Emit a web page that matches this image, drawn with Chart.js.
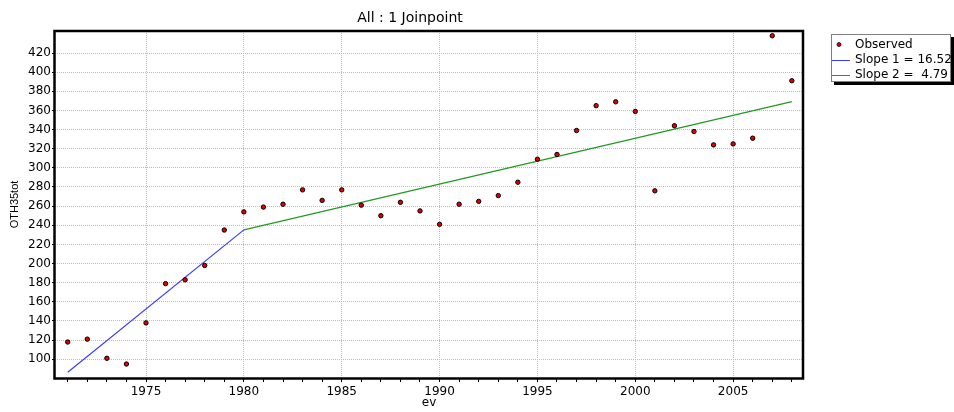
<!DOCTYPE html>
<html>
<head>
<meta charset="utf-8">
<script src="https://cdn.jsdelivr.net/npm/chart.js@4/dist/chart.umd.min.js"></script>
<style>
  html, body { margin: 0; padding: 0; background: #fff; }
</style>
</head>
<body>
<canvas id="c" width="954" height="412"></canvas>
<script>
/* Joinpoint fit: observed series + two fitted segments */
const years = [1971, 1972, 1973, 1974, 1975, 1976, 1977, 1978, 1979, 1980,
  1981, 1982, 1983, 1984, 1985, 1986, 1987, 1988, 1989, 1990,
  1991, 1992, 1993, 1994, 1995, 1996, 1997, 1998, 1999, 2000,
  2001, 2002, 2003, 2004, 2005, 2006, 2007, 2008];
const observed = [118, 121, 101, 95, 138, 179, 183, 198, 235, 254,
  259, 262, 277, 266, 277, 261, 250, 264, 255, 241,
  262, 265, 271, 285, 309, 314, 339, 365, 369, 359,
  276, 344, 338, 324, 325, 331, 438, 391];
const seg1Years = [1971, 1980];
const seg1Values = [86.5, 235.2];
const seg2Years = [1980, 2008];
const seg2Values = [235.2, 369.3];
const legendLabels = ["Observed", "Slope 1 = 16.52", "Slope 2 =  4.79"];
const yTicks = [100, 120, 140, 160, 180, 200, 220, 240, 260, 280, 300, 320, 340, 360, 380, 400, 420];
const xTickLabels = [1975, 1980, 1985, 1990, 1995, 2000, 2005];

const titleText = "All : 1 Joinpoint";
const FONT = "'DejaVu Sans', sans-serif";
const GRID = "#bcbcbc";
const C = { red: "#e00000", blue: "#3c3cff", green: "#229a22" };

const pts = (xs, ys) => xs.map((x, i) => ({ x, y: ys[i] }));

const decor = {
  id: "decor",
  afterDatasetsDraw(chart) {
    const { ctx, chartArea: a } = chart;
    ctx.save();
    ctx.strokeStyle = "#000";
    ctx.lineWidth = 2.5;
    ctx.strokeRect(a.left - 0.5, a.top, a.right - a.left + 0.5, a.bottom - a.top + 0.5);
    ctx.restore();
  },
  afterDraw(chart) {
    const ctx = chart.ctx;
    ctx.save();
    // title
    ctx.fillStyle = "#000";
    ctx.font = "14px " + FONT;
    ctx.textAlign = "center";
    ctx.textBaseline = "middle";
    ctx.fillText(titleText, 410, 18);
    // legend box with shadow
    const bx = 831, by = 34, bw = 120, bh = 48;
    ctx.fillStyle = "#000";
    ctx.fillRect(bx + 3, by + 3, bw, bh);
    ctx.fillStyle = "#fff";
    ctx.fillRect(bx, by, bw, bh);
    ctx.strokeStyle = "#808080";
    ctx.lineWidth = 1;
    ctx.strokeRect(bx + 0.5, by + 0.5, bw - 1, bh - 1);
    ctx.font = "12px " + FONT;
    ctx.textAlign = "left";
    const rows = [44.5, 60, 75];
    chart.data.datasets.forEach((ds, i) => {
      const y = rows[i];
      if (i === 0) {
        ctx.beginPath();
        ctx.arc(839, y, 2, 0, Math.PI * 2);
        ctx.fillStyle = C.red; ctx.fill();
        ctx.strokeStyle = "#000"; ctx.lineWidth = 0.8; ctx.stroke();
      } else {
        ctx.beginPath();
        ctx.moveTo(832, Math.round(y) + 0.5); ctx.lineTo(850, Math.round(y) + 0.5);
        ctx.strokeStyle = ds.borderColor; ctx.lineWidth = 1; ctx.stroke();
      }
      ctx.fillStyle = "#000";
      ctx.fillText(ds.label, 855, y);
    });
    ctx.restore();
  }
};

new Chart(document.getElementById("c"), {
  type: "scatter",
  data: {
    datasets: [
      { label: legendLabels[0], data: pts(years, observed), pointRadius: 2.2, pointBorderWidth: 1,
        pointBackgroundColor: C.red, pointBorderColor: "#000", showLine: false },
      { label: legendLabels[1], data: pts(seg1Years, seg1Values), showLine: true, pointRadius: 0,
        borderColor: C.blue, borderWidth: 1.2 },
      { label: legendLabels[2], data: pts(seg2Years, seg2Values), showLine: true, pointRadius: 0,
        borderColor: C.green, borderWidth: 1.3 }
    ]
  },
  options: {
    responsive: false,
    animation: false,
    layout: { padding: { top: 31, right: 151, left: 0, bottom: 0 } },
    plugins: { legend: { display: false }, title: { display: false }, tooltip: { enabled: false } },
    scales: {
      x: {
        type: "linear", min: 1970.35, max: 2008.57,
        afterFit: (s) => { s.height = 34; },
        ticks: { stepSize: 1, includeBounds: false, autoSkip: false, maxRotation: 0, padding: 3,
          color: "#000", font: { family: FONT, size: 12 },
          callback: (v) => (xTickLabels.includes(v) ? String(v) : "") },
        grid: { color: (c) => (c.tick && xTickLabels.includes(c.tick.value) ? GRID : "rgba(0,0,0,0)"),
          tickColor: "#000", tickWidth: 1, tickLength: 4, lineWidth: 1 },
        border: { display: false, dash: [1, 1] },
        title: { display: true, text: "ev", color: "#000", font: { family: FONT, size: 12 }, padding: { top: 0, bottom: 2 } }
      },
      y: {
        min: 80.4, max: 443,
        afterFit: (s) => { s.width = 55; },
        afterBuildTicks: (s) => { s.ticks = yTicks.map((v) => ({ value: v })); },
        ticks: { padding: 1, color: "#000", font: { family: FONT, size: 12 } },
        grid: { color: GRID, tickColor: "#000", tickWidth: 1, tickLength: 3, lineWidth: 1 },
        border: { display: false, dash: [1, 1] },
        title: { display: true, text: "OTH35tot", color: "#000", font: { family: "'Liberation Sans', Arial, sans-serif", size: 11 }, padding: { top: 8, bottom: 0 } }
      }
    }
  },
  plugins: [decor]
});
</script>
</body>
</html>
